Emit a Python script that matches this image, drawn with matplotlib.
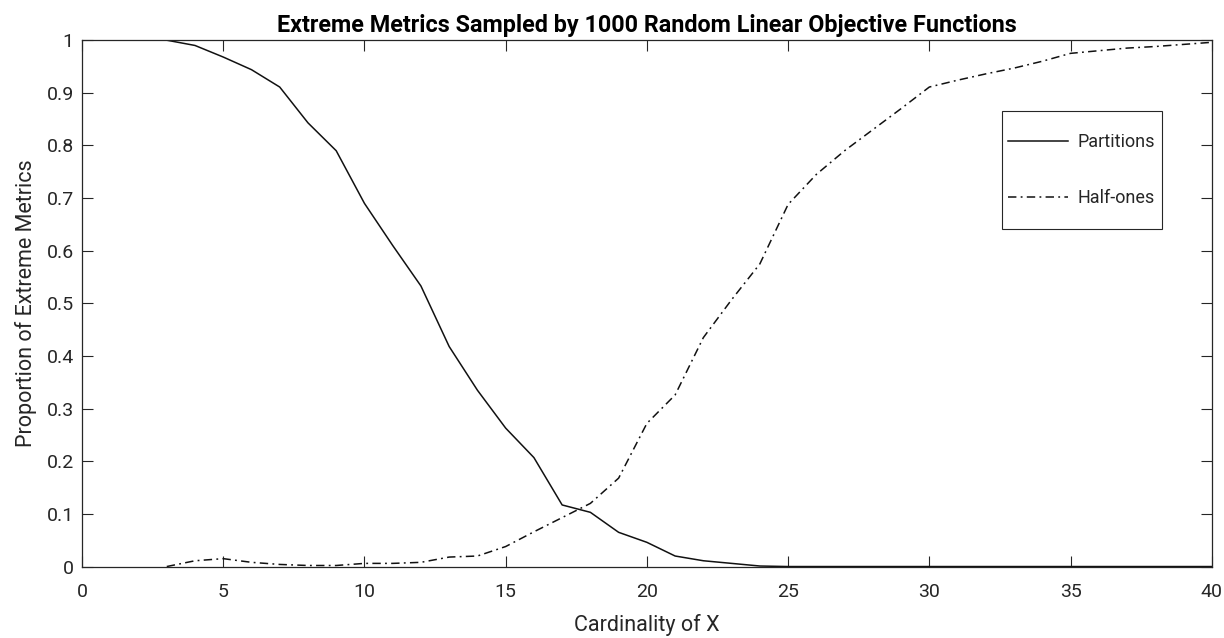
import matplotlib
matplotlib.use("Agg")
import matplotlib.pyplot as plt
from matplotlib.patches import Rectangle

# cardinality of X
card = list(range(3, 41))

# proportion of extreme metrics that are partitions
partitions = [1.0, 0.99, 0.968, 0.944, 0.911, 0.843, 0.79, 0.69, 0.61, 0.533,
              0.418, 0.335, 0.263, 0.207, 0.117, 0.103, 0.065, 0.046, 0.02, 0.011,
              0.006, 0.001, 0.0, 0.0, 0.0, 0.0, 0.0, 0.0, 0.0, 0.0,
              0.0, 0.0, 0.0, 0.0, 0.0, 0.0, 0.0, 0.0]

# proportion of extreme metrics that are half-ones
half_ones = [0.0, 0.011, 0.015, 0.008, 0.004, 0.002, 0.002, 0.006, 0.006, 0.008,
             0.018, 0.02, 0.038, 0.066, 0.093, 0.12, 0.168, 0.272, 0.326, 0.435,
             0.507, 0.575, 0.688, 0.745, 0.79, 0.83, 0.87, 0.911, 0.924, 0.936,
             0.947, 0.96, 0.975, 0.98, 0.985, 0.988, 0.992, 0.996]

plt.rcParams['font.family'] = ['Roboto', 'DejaVu Sans']
grey = '#262626'

fig = plt.figure(figsize=(12.24, 6.38), dpi=100)
ax = fig.add_axes([0.067, 0.112, 0.923, 0.825])

ax.plot(card, partitions, color='#111111', lw=1.1, label='Partitions')
ax.plot(card, half_ones, color='#111111', lw=1.1, linestyle=(0, (5.5, 2.8, 1.2, 2.8)),
        label='Half-ones')

ax.set_xlim(0, 40)
ax.set_ylim(0, 1)
ax.set_xticks(range(0, 41, 5))
ax.set_yticks([i / 10 for i in range(11)])
ax.set_yticklabels(['0', '0.1', '0.2', '0.3', '0.4', '0.5', '0.6', '0.7', '0.8', '0.9', '1'])

ax.tick_params(direction='in', top=True, right=True, length=8, width=0.8,
               colors=grey, labelsize=14)
ax.tick_params(axis='x', pad=12)
ax.tick_params(axis='y', pad=6)
for s in ax.spines.values():
    s.set_color(grey)
    s.set_linewidth(0.9)

ax.set_title('Extreme Metrics Sampled by 1000 Random Linear Objective Functions',
             fontsize=16.8, fontweight='bold', color='black', pad=6)
ax.set_xlabel('Cardinality of X', fontsize=15.5, color=grey, labelpad=9)
ax.set_ylabel('Proportion of Extreme Metrics', fontsize=15.5, color=grey, labelpad=7)

leg = ax.legend(loc='center', bbox_to_anchor=(1081.7 / 1224, 1 - 170 / 638),
                bbox_transform=fig.transFigure, frameon=False, fontsize=13,
                handlelength=3.33, handletextpad=0.5, labelspacing=2.1,
                borderpad=0.37)
for t in leg.get_texts():
    t.set_color(grey)

fig.canvas.draw()
bb = leg.get_window_extent()
cy = (bb.y0 + bb.y1) / 2
fig.patches.append(Rectangle((bb.x0, cy - 59), bb.width, 118, transform=None,
                             fill=False, edgecolor=grey, lw=0.8))

fig.savefig('out.png', dpi=100)
